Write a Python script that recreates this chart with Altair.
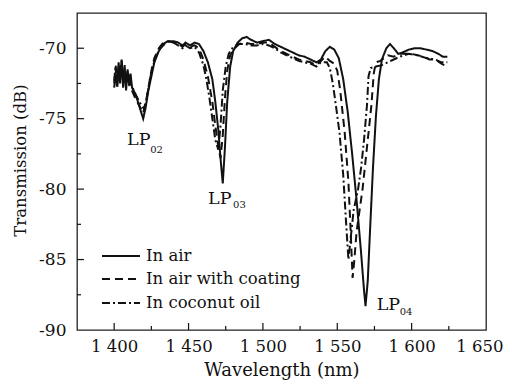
import altair as alt
import pandas as pd

# ---- data ----
air_wl = [1400, 1401, 1402, 1403, 1404, 1405, 1406, 1407, 1408, 1409, 1410, 1411, 1412, 1414, 1416, 1418,
          1419.5, 1421, 1423, 1425, 1427, 1430, 1433, 1436, 1440, 1443, 1446, 1448, 1451, 1454, 1457, 1460,
          1463, 1466, 1468, 1470, 1471.5, 1473, 1474.5, 1476, 1478, 1480, 1483, 1486, 1489, 1492, 1496, 1500,
          1504, 1508, 1512, 1516, 1520, 1524, 1528, 1532, 1536, 1539, 1542, 1545, 1548, 1551, 1554, 1557,
          1560, 1563, 1566, 1568, 1569, 1570.5, 1572, 1574, 1576, 1578, 1580, 1583, 1585.5, 1588, 1591, 1594,
          1598, 1602, 1606, 1610, 1614, 1618, 1621, 1624]
air_db = [-72.8, -71.8, -72.6, -71.0, -72.5, -70.8, -72.8, -71.2, -73.0, -71.5, -72.5, -71.8, -72.8, -73.2, -73.8, -74.5,
          -75.0, -74.3, -73.0, -72.0, -71.0, -70.2, -69.7, -69.5, -69.5, -69.6, -69.8, -69.6, -69.8, -69.6, -69.7, -70.2,
          -71.0, -72.2, -73.8, -75.8, -77.8, -79.6, -77.0, -73.8, -71.3, -70.2, -69.6, -69.3, -69.2, -69.4, -69.6, -69.5,
          -69.4, -69.7, -69.9, -70.1, -70.3, -70.5, -70.6, -70.8, -71.0, -70.8, -70.2, -69.9, -70.1, -70.7, -72.2, -74.5,
          -77.5, -80.8, -84.5, -87.2, -88.3, -86.5, -83.0, -78.5, -74.8, -72.2, -70.8, -70.0, -69.7, -70.0, -70.4, -70.3,
          -70.1, -70.0, -70.0, -70.1, -70.2, -70.4, -70.6, -70.6]

coat_wl = [1400, 1401, 1402, 1403, 1404, 1405, 1406, 1407, 1408, 1409, 1410, 1412, 1414, 1416, 1418, 1419.5,
           1421, 1423, 1425, 1427, 1430, 1433, 1436, 1440, 1443, 1446, 1448, 1451, 1454, 1457, 1460, 1463,
           1466, 1468, 1470, 1471.5, 1473, 1474.5, 1476, 1478, 1481, 1484, 1488, 1492, 1496, 1500, 1504, 1508,
           1512, 1516, 1520, 1524, 1528, 1532, 1536, 1539, 1542, 1545, 1548, 1550, 1552, 1555, 1557.5, 1559,
           1560.3, 1561.5, 1563, 1565, 1567, 1569, 1571, 1573, 1574.5, 1576, 1579, 1584, 1588, 1592, 1596, 1600,
           1604, 1608, 1612, 1616, 1620, 1624]
coat_db = [-72.5, -71.4, -72.9, -71.3, -72.2, -71.0, -72.4, -71.6, -72.8, -71.8, -72.6, -73.0, -73.5, -73.9, -74.3, -74.6,
           -74.0, -72.8, -71.6, -70.7, -70.0, -69.6, -69.5, -69.6, -69.7, -69.9, -69.7, -69.9, -69.8, -70.0, -70.8, -72.0,
           -73.8, -75.5, -77.0, -77.8, -76.2, -73.5, -71.6, -70.5, -70.0, -69.7, -69.6, -69.7, -69.7, -69.6, -69.6, -69.9,
           -70.2, -70.4, -70.6, -70.8, -70.9, -71.0, -71.2, -70.9, -70.6, -70.9, -71.1, -71.6, -73.0, -76.0, -79.5, -83.0,
           -86.3, -85.0, -83.0, -81.5, -80.0, -78.0, -76.0, -74.0, -71.8, -71.0, -70.9, -70.5, -70.6, -70.4, -70.4, -70.4,
           -70.5, -70.6, -70.8, -70.8, -71.1, -71.3]

oil_wl = [1400, 1401, 1402, 1403, 1404, 1405, 1406, 1407, 1408, 1409, 1410, 1412, 1414, 1416, 1418, 1420,
          1422, 1424, 1426, 1428, 1431, 1434, 1437, 1440, 1443, 1446, 1448, 1451, 1454, 1457, 1460, 1462,
          1464, 1466, 1468, 1470, 1471.5, 1473, 1475, 1477, 1480, 1484, 1488, 1492, 1496, 1500, 1504, 1508,
          1512, 1516, 1520, 1524, 1528, 1532, 1536, 1539, 1543, 1545, 1547, 1549, 1551.5, 1554, 1556, 1557.5,
          1559, 1561, 1564, 1566, 1568, 1570, 1571, 1572.5, 1576, 1580, 1584, 1588, 1592, 1598, 1604, 1610,
          1616, 1620, 1624]
oil_db = [-72.3, -71.2, -72.4, -71.6, -72.0, -70.9, -72.1, -71.4, -72.5, -71.6, -72.3, -72.7, -73.2, -73.6, -74.0, -74.3,
          -73.5, -72.2, -71.3, -70.6, -70.0, -69.7, -69.5, -69.6, -69.8, -70.0, -69.8, -70.0, -69.9, -70.3, -71.2, -72.2,
          -73.5, -75.0, -76.5, -77.2, -75.5, -73.0, -71.3, -70.4, -69.9, -69.7, -69.7, -69.8, -69.8, -69.7, -69.8, -70.0,
          -70.3, -70.5, -70.7, -70.9, -71.0, -71.1, -71.3, -71.0, -71.0, -71.4, -72.5, -74.0, -76.0, -79.0, -82.5, -85.0,
          -83.5, -81.5, -80.0, -78.5, -76.5, -74.0, -72.0, -71.4, -71.3, -71.2, -71.0, -70.8, -70.6, -70.4, -70.5, -70.7,
          -70.8, -71.0, -71.0]

series_names = ["In air", "In air with coating", "In coconut oil"]
series_dash = [[1, 0], [8, 5], [8, 3, 2, 3]]

x_ticks_major = [1400, 1450, 1500, 1550, 1600, 1650]
x_ticks_minor = [1425, 1475, 1525, 1575, 1625]
y_ticks_major = [-90, -85, -80, -75, -70]
y_ticks_minor = [-87.5, -82.5, -77.5, -72.5]

lp_text = ["LP", "LP", "LP"]
lp_wl = [1408.7, 1463.1, 1576.5]
lp_db = [-76.5, -80.7, -88.2]
sub_text = ["02", "03", "04"]
sub_wl = [1424.2, 1479.9, 1592.0]
sub_db = [-77.2, -81.1, -88.7]

# ---- build table ----
rows = []
for name, wl, db in zip(series_names, [air_wl, coat_wl, oil_wl], [air_db, coat_db, oil_db]):
    for i, (w, d) in enumerate(zip(wl, db)):
        rows.append({"series": name, "wl": w, "db": d, "order": i})
df = pd.DataFrame(rows)

FONT = "DejaVu Serif"
W, H = 409, 317
xscale = alt.Scale(domain=[1375, 1650], nice=False, zero=False)
yscale = alt.Scale(domain=[-90, -67.5], nice=False, zero=False)

last_label = "datum.value == 1650"

lines = alt.Chart(df).mark_line(color="#111", strokeWidth=2).encode(
    x=alt.X("wl:Q", scale=xscale, axis=alt.Axis(
        values=x_ticks_major, ticks=False, domain=False, grid=False, labelFlush=False,
        labelOverlap=False,
        labelAlign={"condition": {"test": last_label, "value": "right"}, "value": "center"},
        labelOffset={"condition": {"test": last_label, "value": 17}, "value": 0},
        labelExpr="slice(toString(datum.value),0,1) + ' ' + slice(toString(datum.value),1)",
        labelFont=FONT, labelFontSize=16.5, labelColor="#111", labelPadding=8,
        title="Wavelength (nm)", titleFont=FONT, titleFontSize=18, titleFontWeight="normal",
        titleColor="#111", titleY=40, titleBaseline="middle")),
    y=alt.Y("db:Q", scale=yscale, axis=alt.Axis(
        values=y_ticks_major, ticks=False, domain=False, grid=False, labelFlush=False,
        labelExpr="toString(datum.value)",
        labelFont=FONT, labelFontSize=17, labelColor="#111", labelPadding=11,
        title="Transmission (dB)", titleFont=FONT, titleFontSize=16.5, titleFontWeight="normal",
        titleColor="#111", titleX=-57, titleY=147, titleBaseline="middle", titleAlign="center",
        titleAngle=270)),
    strokeDash=alt.StrokeDash("series:N", scale=alt.Scale(domain=series_names, range=series_dash),
                              legend=None),
    detail="series:N",
    order="order:Q",
)

# custom legend (one rule + label per series)
legend_layers = []
legend_rows_px = [243, 266, 290]
for name, dash, ypx in zip(series_names, series_dash, legend_rows_px):
    ldf = pd.DataFrame({"series": [name]})
    legend_layers.append(alt.Chart(ldf).mark_rule(color="#111", strokeWidth=2, strokeDash=dash).encode(
        x=alt.value(25), x2=alt.value(63), y=alt.value(ypx)))
    legend_layers.append(alt.Chart(ldf).mark_text(
        font=FONT, fontSize=16.5, color="#111", align="left", baseline="middle").encode(
        x=alt.value(69), y=alt.value(ypx), text="series:N"))

xt_major = alt.Chart(pd.DataFrame({"v": x_ticks_major[:-1]})).mark_rule(color="#111", strokeWidth=1.2).encode(
    x=alt.X("v:Q", scale=xscale), y=alt.value(H), y2=alt.value(H - 7))
xt_minor = alt.Chart(pd.DataFrame({"v": x_ticks_minor})).mark_rule(color="#111", strokeWidth=1.2).encode(
    x=alt.X("v:Q", scale=xscale), y=alt.value(H), y2=alt.value(H - 4))
yt_major = alt.Chart(pd.DataFrame({"v": y_ticks_major[1:]})).mark_rule(color="#111", strokeWidth=1.2).encode(
    y=alt.Y("v:Q", scale=yscale), x=alt.value(0), x2=alt.value(7))
yt_minor = alt.Chart(pd.DataFrame({"v": y_ticks_minor})).mark_rule(color="#111", strokeWidth=1.2).encode(
    y=alt.Y("v:Q", scale=yscale), x=alt.value(0), x2=alt.value(4))

lp = alt.Chart(pd.DataFrame({"t": lp_text, "wl": lp_wl, "db": lp_db})).mark_text(
    font=FONT, fontSize=17.5, color="#111", align="left", baseline="middle").encode(
    x=alt.X("wl:Q", scale=xscale), y=alt.Y("db:Q", scale=yscale), text="t:N")
sub = alt.Chart(pd.DataFrame({"t": sub_text, "wl": sub_wl, "db": sub_db})).mark_text(
    font=FONT, fontSize=10, color="#111", align="left", baseline="middle").encode(
    x=alt.X("wl:Q", scale=xscale), y=alt.Y("db:Q", scale=yscale), text="t:N")

chart = alt.layer(lines, xt_major, xt_minor, yt_major, yt_minor, lp, sub, *legend_layers).properties(
    width=W, height=H,
    autosize=alt.AutoSizeParams(type="none"),
    padding={"left": 69, "top": 5, "right": 18, "bottom": 50},
    background="white",
).configure_view(stroke="#222", strokeWidth=1.3)

chart.save("out.html", embed_options={"renderer": "svg", "actions": False})
